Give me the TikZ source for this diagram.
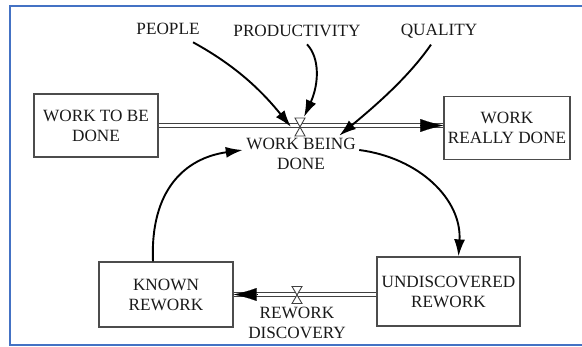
\documentclass[tikz,border=0pt]{standalone}
\usepackage{fontspec}
\setmainfont{Liberation Serif}
\usetikzlibrary{positioning}
\usetikzlibrary{calc}
\usetikzlibrary{arrows.meta}
\definecolor{frameblue}{RGB}{68,114,196}
\definecolor{ink}{RGB}{25,25,25}
\tikzset{
	every node/.style={align=center,text=ink,font=\fontsize{17.2}{20}\selectfont},
	stock/.style={draw=black!70,line width=1.2pt,inner sep=0pt},
	pipe/.style={draw=black!75,double=white,double distance=3pt,line width=0.9pt},
	pipehead/.style={-{Latex[length=23pt,width=13pt]},line width=0.1pt},
	link/.style={-{Latex[length=17pt,width=11pt]},line width=1.9pt},
	valve/.style={draw=black!75,fill=white,line width=0.9pt},
}

\begin{document}
\begin{tikzpicture}[x=1pt,y=-1pt]
			\useasboundingbox (0,0) rectangle (582,347);

			% frame.....................
			\draw [frameblue, line width=2pt] (583,6.5) -- (9.5,6.5) -- (9.5,345.5) -- (583,345.5);

			% stocks....................
			\node [stock, minimum width=124pt, minimum height=63pt] (todo) at (96,125.5) {WORK TO BE\\DONE};
			\node [stock, minimum width=126pt, minimum height=63pt] (really) at (507,128) {WORK\\REALLY DONE};
			\node [stock, minimum width=134pt, minimum height=65pt] (known) at (166,294.5) {KNOWN\\REWORK};
			\node [stock, minimum width=143pt, minimum height=69pt] (undisc) at (448.5,291.5) {UNDISCOVERED\\REWORK};

			% auxiliaries...............
			\node (people) at (168,29) {PEOPLE};
			\node (prod) at (297,31) {PRODUCTIVITY};
			\node (quality) at (439,31) {QUALITY};

			% flow: work being done.....
			\coordinate (rate) at (300,127);
			\coordinate (donein) at (todo.east -| really.west);
			\draw [pipe] (todo.east) -- (donein);
			\draw [pipehead] ($(donein)+(-23,0)$) -- (donein);
			\draw [valve] ($(rate)+(-5,-9)$) -- ($(rate)+(5,-9)$) -- ($(rate)+(-5,9)$) -- ($(rate)+(5,9)$) -- cycle;
			\node (wbd) at (301,154) {WORK BEING\\DONE};

			% flow: rework discovery....
			\coordinate (disc) at (297,295);
			\coordinate (discout) at (undisc.west |- known.east);
			\draw [pipe] (discout) -- (known.east);
			\draw [pipehead] ($(known.east)+(23,0)$) -- (known.east);
			\draw [valve] ($(disc)+(-5,-8.5)$) -- ($(disc)+(5,-8.5)$) -- ($(disc)+(-5,8.5)$) -- ($(disc)+(5,8.5)$) -- cycle;
			\node (rwd) at (297,322.5) {REWORK\\DISCOVERY};

			% links.....................
			\draw [link] ([xshift=-10pt,yshift=-4pt]people.south east) .. controls (240,68) and (265,95) .. ([xshift=-9pt]rate);
			\draw [link] ([xshift=10pt,yshift=-4pt]prod.south) .. controls (320,58) and (319,84) .. ([xshift=4pt,yshift=10pt]rate);
			\draw [link] ([xshift=-8pt,yshift=-3pt]quality.south) .. controls (410,75) and (380,102) .. ([xshift=-20pt,yshift=-1pt]wbd.north east);

			% rework loop...............
			\draw [link] ([xshift=-13pt]known.north) .. controls (150,190) and (185,158) .. ([yshift=4pt]wbd.west);
			\draw [link] ([yshift=4pt]wbd.east) .. controls (420,158) and (462,200) .. ([xshift=10pt]undisc.north);
		\end{tikzpicture}
\end{document}
